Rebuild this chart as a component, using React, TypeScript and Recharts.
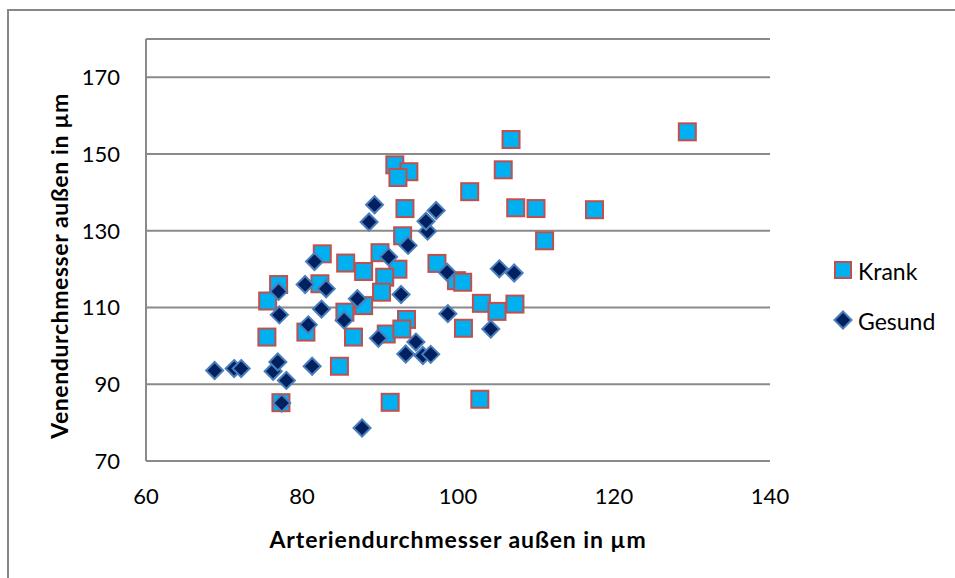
import { ScatterChart, Scatter, XAxis, YAxis, CartesianGrid, Legend, Label } from 'recharts';

// Krank (squares)
const krankX = [
  129.4, 106.8, 91.9, 93.7, 92.3, 105.8, 101.5, 93.2, 107.4, 110.0, 117.5, 111.1, 92.9, 82.6,
  90.0, 85.6, 97.3, 87.9, 92.3, 90.6, 99.8, 100.6, 77.0, 82.3, 75.6, 90.2, 87.9, 85.5,
  103.0, 107.3, 105.0, 93.4, 80.5, 90.8, 92.8, 100.7, 75.5, 86.6, 84.8, 77.3, 91.3, 102.8,
];
const krankY = [
  155.8, 153.8, 147.2, 145.4, 143.9, 145.9, 140.2, 135.8, 136.0, 135.8, 135.5, 127.4, 128.7, 124.0,
  124.3, 121.6, 121.5, 119.4, 120.0, 117.9, 117.0, 116.6, 116.0, 116.2, 111.7, 114.0, 110.5, 108.8,
  111.1, 110.9, 109.0, 106.9, 103.6, 103.1, 104.4, 104.6, 102.3, 102.3, 94.7, 85.2, 85.3, 86.1,
];

// Gesund (diamonds)
const gesundX = [
  68.8, 71.3, 72.2, 76.3, 76.9, 78.0, 77.4, 81.3, 87.7, 77.0, 77.1, 80.4, 81.6, 83.1,
  82.5, 80.8, 85.4, 87.1, 91.1, 93.6, 92.7, 89.8, 94.6, 93.3, 95.5, 96.5, 98.6, 98.7,
  96.1, 88.6, 89.3, 95.9, 97.2, 105.3, 107.2, 104.2,
];
const gesundY = [
  93.6, 94.1, 94.1, 93.4, 95.8, 91.0, 85.1, 94.7, 78.6, 114.2, 108.1, 116.0, 122.0, 114.9,
  109.6, 105.5, 106.7, 112.3, 123.2, 126.2, 113.4, 102.0, 101.0, 97.9, 97.5, 97.8, 119.2, 108.4,
  129.9, 132.3, 136.8, 132.5, 135.3, 120.1, 119.0, 104.4,
];

const xTicks = [60, 80, 100, 120, 140];
const yTicks = [70, 90, 110, 130, 150, 170];

const krank = krankX.map((x, i) => ({ x, y: krankY[i] }));
const gesund = gesundX.map((x, i) => ({ x, y: gesundY[i] }));

const FONT = 'Lato, "Open Sans", sans-serif';
const GRID = '#8a8a8a';

const SquareShape = (props: any) => {
  const { cx, cy } = props;
  return <rect x={cx - 8.5} y={cy - 8.5} width={17} height={17} fill="#00B0F0" stroke="#C0504D" strokeWidth={2} />;
};

const DiamondShape = (props: any) => {
  const { cx, cy } = props;
  const r = 8.5;
  return (
    <polygon
      points={`${cx},${cy - r} ${cx + r},${cy} ${cx},${cy + r} ${cx - r},${cy}`}
      fill="#002060"
      stroke="#4A7EBB"
      strokeWidth={2}
    />
  );
};

const renderLegend = () => (
  <div style={{ fontFamily: FONT, fontSize: 23, color: '#000' }}>
    <div style={{ display: 'flex', alignItems: 'center', height: 30 }}>
      <svg width={22} height={22} style={{ marginRight: 3 }}>
        <rect x={2} y={2} width={16} height={16} fill="#00B0F0" stroke="#C0504D" strokeWidth={2} />
      </svg>
      <span>Krank</span>
    </div>
    <div style={{ display: 'flex', alignItems: 'center', height: 30, marginTop: 20 }}>
      <svg width={22} height={22} style={{ marginRight: 3 }}>
        <polygon points="10,1.5 18.5,10 10,18.5 1.5,10" fill="#002060" stroke="#4A7EBB" strokeWidth={2} />
      </svg>
      <span>Gesund</span>
    </div>
  </div>
);

export default function App() {
  return (
    <div style={{ position: 'fixed', left: 0, top: 0, width: 955, height: 578, overflow: 'hidden', background: '#fff' }}>
      <div
        style={{
          position: 'absolute',
          left: 7,
          top: 9,
          width: 1000,
          height: 600,
          border: '2px solid #878787',
          boxSizing: 'border-box',
        }}
      />
      <div style={{ position: 'absolute', left: 0, top: 0 }}>
        {/* legend (width 120) is reserved on the right as well */}
        <ScatterChart width={955} height={578} margin={{ top: 39, right: 65, left: 46, bottom: 67 }}>
          <CartesianGrid vertical={false} stroke={GRID} strokeWidth={2} />
          <XAxis
            type="number"
            dataKey="x"
            domain={[60, 140]}
            ticks={xTicks}
            height={50}
            axisLine={{ stroke: GRID, strokeWidth: 2 }}
            tickLine={false}
            tickSize={0}
            tickMargin={27}
            tick={{ fill: '#000', fontSize: 22, fontFamily: FONT }}
          >
            <Label
              content={(p: any) => {
                const vb = p.viewBox || {};
                return (
                  <text
                    x={vb.x + vb.width / 2}
                    y={548}
                    textAnchor="middle"
                    fontFamily={FONT}
                    fontWeight="bold"
                    fontSize={23}
                    letterSpacing={0.9}
                    fill="#000"
                  >
                    Arteriendurchmesser außen in µm
                  </text>
                );
              }}
            />
          </XAxis>
          <YAxis
            type="number"
            dataKey="y"
            domain={[70, 180]}
            ticks={yTicks}
            width={100}
            axisLine={{ stroke: GRID, strokeWidth: 2 }}
            tickLine={false}
            tickSize={0}
            tickMargin={26}
            tick={{ fill: '#000', fontSize: 22, fontFamily: FONT }}
          >
            <Label
              content={() => (
                <text
                  x={68}
                  y={266}
                  transform="rotate(-90, 68, 266)"
                  textAnchor="middle"
                  fontFamily={FONT}
                  fontWeight="bold"
                  fontSize={23}
                  letterSpacing={0.6}
                  fill="#000"
                >
                  Venendurchmesser außen in µm
                </text>
              )}
            />
          </YAxis>
          <Legend
            layout="vertical"
            align="right"
            verticalAlign="top"
            content={renderLegend}
            wrapperStyle={{ left: 833, top: 256, width: 120 }}
          />
          <Scatter name="Krank" data={krank} shape={SquareShape} isAnimationActive={false} />
          <Scatter name="Gesund" data={gesund} shape={DiamondShape} isAnimationActive={false} />
        </ScatterChart>
      </div>
    </div>
  );
}
